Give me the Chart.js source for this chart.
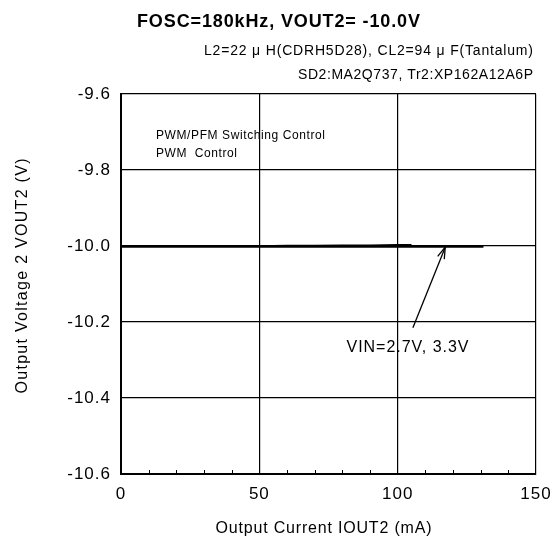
<!DOCTYPE html>
<html>
<head>
<meta charset="utf-8">
<script src="https://cdn.jsdelivr.net/npm/chart.js@4/dist/chart.umd.min.js"></script>
<style>
	html, body { margin: 0; padding: 0; background: #fff; }
	#wrap { width: 553px; height: 539px; }
</style>
</head>
<body>
<div id="wrap"><canvas id="chart" width="553" height="539"></canvas></div>
<script>
// data
const iout27 = [0, 10, 20, 30, 40, 50, 60, 70, 80, 90, 100, 105];
const vout27 = [-10.0, -10.0, -10.0, -10.0, -10.0, -10.0, -9.999, -9.999, -9.998, -9.998, -9.997, -9.997];
const iout33 = [0, 10, 20, 30, 40, 50, 60, 70, 80, 90, 100, 110, 120, 131];
const vout33 = [-10.001, -10.001, -10.001, -10.001, -10.001, -10.001, -10.001, -10.001, -10.001, -10.001, -10.001, -10.001, -10.001, -10.001];
const xTicks = [0, 50, 100, 150];
const yTicks = [-9.6, -9.8, -10.0, -10.2, -10.4, -10.6];

const FONT = 'Liberation Sans, Arial, sans-serif';

function toPoints(xs, ys) {
	return xs.map((x, i) => ({ x: x, y: ys[i] }));
}

// draws text stretched with letter spacing to a given width
function fitText(ctx, text, x, y, width, align) {
	ctx.letterSpacing = '0px';
	const w = ctx.measureText(text).width;
	const ls = (width - w) / (text.length - 1);
	ctx.letterSpacing = ls + 'px';
	ctx.textAlign = 'left';
	let start = x;
	if (align === 'right') start = x - width;
	if (align === 'center') start = x - width / 2;
	ctx.fillText(text, start, y);
	ctx.letterSpacing = '0px';
}

const decorations = {
	id: 'decorations',
	beforeDraw(chart) {
		chart.ctx.letterSpacing = '1px';
	},
	afterDraw(chart) {
		const ctx = chart.ctx;
		const xs = chart.scales.x;
		const ys = chart.scales.y;
		const area = chart.chartArea;

		ctx.save();
		ctx.letterSpacing = '0px';
		// minor ticks on bottom axis
		ctx.strokeStyle = '#000';
		ctx.lineWidth = 1;
		for (let v = 10; v < 150; v += 10) {
			if (v % 50 === 0) continue;
			const px = Math.round(xs.getPixelForValue(v)) + 0.5;
			ctx.beginPath();
			ctx.moveTo(px, area.bottom);
			ctx.lineTo(px, area.bottom - 4);
			ctx.stroke();
		}

		ctx.fillStyle = '#000';
		ctx.textBaseline = 'middle';
		// title
		ctx.font = 'bold 18px ' + FONT;
		fitText(ctx, 'FOSC=180kHz, VOUT2= -10.0V', 137, 22, 283, 'left');

		ctx.font = '14px ' + FONT;
		fitText(ctx, 'L2=22 \u03bc H(CDRH5D28), CL2=94 \u03bc F(Tantalum)', 533, 51, 329, 'right');
		fitText(ctx, 'SD2:MA2Q737, Tr2:XP162A12A6P', 533, 75, 235, 'right');

		// notes inside plot
		ctx.font = '12px ' + FONT;
		fitText(ctx, 'PWM/PFM Switching Control', 156, 136, 169, 'left');
		fitText(ctx, 'PWM  Control', 156, 154, 81, 'left');

		// arrow annotation
		const tipX = xs.getPixelForValue(117.2), tipY = ys.getPixelForValue(-10.003);
		const tailX = xs.getPixelForValue(105.5), tailY = ys.getPixelForValue(-10.215);
		ctx.lineWidth = 1.3;
		ctx.beginPath();
		ctx.moveTo(tailX, tailY);
		ctx.lineTo(tipX, tipY);
		ctx.stroke();
		const ang = Math.atan2(tipY - tailY, tipX - tailX);
		const hl = 12, ha = 0.3;
		ctx.beginPath();
		ctx.moveTo(tipX - hl * Math.cos(ang - ha), tipY - hl * Math.sin(ang - ha));
		ctx.lineTo(tipX, tipY);
		ctx.lineTo(tipX - hl * Math.cos(ang + ha), tipY - hl * Math.sin(ang + ha));
		ctx.stroke();

		ctx.font = '16px ' + FONT;
		fitText(ctx, 'VIN=2.7V, 3.3V', xs.getPixelForValue(81.5), ys.getPixelForValue(-10.268), 122, 'left');

		// axis titles
		fitText(ctx, 'Output Current IOUT2 (mA)', (area.left + area.right) / 2 - 5, 529, 216, 'center');
		ctx.translate(23, 276);
		ctx.rotate(-Math.PI / 2);
		fitText(ctx, 'Output Voltage 2 VOUT2 (V)', 0, 0, 235, 'center');
		ctx.restore();
	}
};

const config = {
	type: 'scatter',
	data: {
		datasets: [
			{
				label: 'VIN=2.7V',
				data: toPoints(iout27, vout27),
				showLine: true,
				borderColor: '#000',
				borderWidth: 1.5,
				pointRadius: 0,
				tension: 0,
			},
			{
				label: 'VIN=3.3V',
				data: toPoints(iout33, vout33),
				showLine: true,
				borderColor: '#000',
				borderWidth: 2.5,
				pointRadius: 0,
				tension: 0,
			},
		],
	},
	options: {
		responsive: false,
		animation: false,
		events: [],
		layout: { padding: { left: 0, right: 17, top: 94, bottom: 0 } },
		plugins: {
			legend: { display: false },
			tooltip: { enabled: false },
		},
		scales: {
			x: {
				type: 'linear',
				min: 0,
				max: 150,
				afterBuildTicks(scale) {
					scale.ticks = xTicks.map((v) => ({ value: v }));
				},
				afterFit(scale) {
					scale.height = 65;
					scale.paddingLeft = 0;
					scale.paddingRight = 0;
				},
				grid: { color: '#000', lineWidth: 1.2, drawTicks: false },
				border: { color: '#000', width: 2 },
				ticks: {
					color: '#000',
					font: { family: FONT, size: 17 },
					padding: 10,
					maxRotation: 0,
				},
			},
			y: {
				type: 'linear',
				min: -10.6,
				max: -9.6,
				afterBuildTicks(scale) {
					scale.ticks = yTicks.map((v) => ({ value: v }));
				},
				afterFit(scale) {
					scale.width = 121;
					scale.paddingTop = 0;
					scale.paddingBottom = 0;
				},
				grid: { color: '#000', lineWidth: 1.2, drawTicks: false },
				border: { color: '#000', width: 2 },
				ticks: {
					color: '#000',
					font: { family: FONT, size: 17 },
					padding: 10,
					callback: (v) => v.toFixed(1),
				},
			},
		},
	},
	plugins: [decorations],
};

new Chart(document.getElementById('chart'), config);
</script>
</body>
</html>
